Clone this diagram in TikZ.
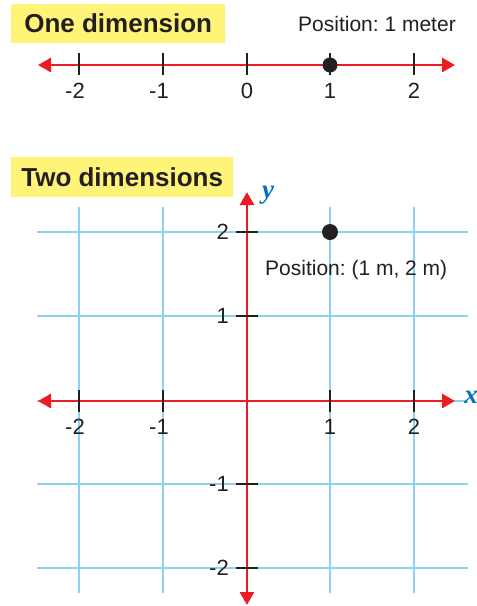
\documentclass[tikz,border=0pt]{standalone}
\usepackage{fontspec}
\setmainfont{Liberation Sans}
\newfontfamily\axisfont{Liberation Serif}
\usetikzlibrary{arrows.meta}
\frenchspacing
\definecolor{axred}{RGB}{237,28,36}
\definecolor{gridblue}{RGB}{140,210,240}
\definecolor{labelblue}{RGB}{0,114,188}
\definecolor{hiyellow}{RGB}{255,244,120}
\definecolor{inkblack}{RGB}{35,31,32}
\tikzset{
  titlebox/.style={fill=hiyellow, inner sep=0, anchor=north west, text=inkblack,
    font=\fontsize{26}{30}\selectfont\bfseries},
  plain/.style={inner sep=0, text=inkblack, font=\fontsize{21}{25}\selectfont},
  ticklabel/.style={inner sep=0, text=inkblack, font=\fontsize{22}{26}\selectfont},
  axislabel/.style={inner sep=0, text=labelblue, font=\fontsize{27}{30}\selectfont\axisfont\bfseries\itshape},
  axisline/.style={draw=axred, line width=2.8pt, {Triangle[length=13pt,width=14pt]}-{Triangle[length=13pt,width=14pt]}},
  tickmark/.style={draw=inkblack, line width=2pt},
  gridline/.style={draw=gridblue, line width=1.3pt},
  posdot/.style={circle, fill=inkblack, inner sep=0, minimum size=16pt}
}
\begin{document}
\begin{tikzpicture}[x=1pt,y=-1pt]
\useasboundingbox (0,0) rectangle (477,606);
% ---------- One dimension ----------
\node[titlebox, minimum width=214pt, minimum height=39pt] (t1) at (11,4) {One dimension};
\node[plain, anchor=center] (p1) at (377,24) {Position: 1 meter};
\coordinate (l1) at (38,65);
\coordinate (r1) at (455,65);
\draw[axisline] (l1) -- (r1);
\foreach \x/\lab/\dx [count=\i] in {79/-2/-4,163/-1/-4,247/0/0,330/1/0,414/2/0}{
  \coordinate (a\i) at (\x,53);
  \coordinate (b\i) at (\x,75);
  \draw[tickmark] (a\i) -- (b\i);
  \node[ticklabel] (n\i) at (\x+\dx,91) {\lab};
}
\node[posdot, minimum size=15pt] (d1) at (330,65) {};
% ---------- Two dimensions ----------
\node[titlebox, minimum width=222pt, minimum height=40pt] (t2) at (11,157) {Two dimensions};
\foreach \x [count=\i] in {79,163,247,330,414}{
  \coordinate (gv\i a) at (\x,207);
  \coordinate (gv\i b) at (\x,593);
  \draw[gridline] (gv\i a) -- (gv\i b);
}
\foreach \y [count=\i] in {232,316,401,484,568}{
  \coordinate (gh\i a) at (37,\y);
  \coordinate (gh\i b) at (468,\y);
  \draw[gridline] (gh\i a) -- (gh\i b);
}
\coordinate (xl) at (38,401);
\coordinate (xr) at (455,401);
\coordinate (yt) at (247,192);
\coordinate (yb) at (247,605);
\draw[axisline] (xl) -- (xr);
\draw[axisline] (yb) -- (yt);
\foreach \x/\lab/\dx [count=\i] in {79/-2/-4,163/-1/-4,330/1/0,414/2/0}{
  \coordinate (xa\i) at (\x,390);
  \coordinate (xb\i) at (\x,412);
  \draw[tickmark] (xa\i) -- (xb\i);
  \node[ticklabel] (xn\i) at (\x+\dx,427) {\lab};
}
\foreach \y/\lab [count=\i] in {232/2,316/1,484/-1,568/-2}{
  \coordinate (ya\i) at (236,\y);
  \coordinate (yb\i) at (258,\y);
  \draw[tickmark] (ya\i) -- (yb\i);
  \node[ticklabel, anchor=east] (yn\i) at (229,\y) {\lab};
}
\node[axislabel] (xlab) at (471,397) {x};
\node[axislabel] (ylab) at (268,195) {y};
\node[posdot] (d2) at (330,232) {};
\node[plain, anchor=west] (p2) at (265,270) {Position: (1 m, 2 m)};
\end{tikzpicture}
\end{document}
